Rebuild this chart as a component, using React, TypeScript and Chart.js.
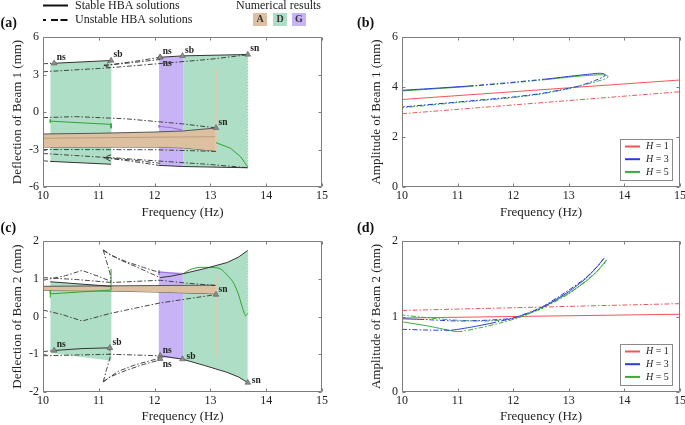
import React, { useEffect, useRef } from "react";
import { Chart, registerables } from "chart.js";
Chart.register(...registerables);

const FAM = "'Liberation Serif', 'Times New Roman', serif";
const INK = "#222";
const FRAME = "#7d7d7d";
const BLACK = "#333";
const DASH = [5, 2, 1.5, 2];
const COL_A = "#dcc0a0";
const COL_D = "#afdec6";
const COL_G = "#c8b3f6";
const GREEN = "#2fa52f";
const PURPLE = "#9b6fd6";
const TAN_LINE = "#e3c9ac";
const RED = "#ef5656";
const BLUE = "#2b3bdb";
const GRN = "#37aa37";

const FREQ_MIN = 10;
const FREQ_MAX = 15;

// ---------- Top legend ----------
const NUM_LABELS = ["A", "D", "G"];
const NUM_COLORS = [COL_A, COL_D, COL_G];
const H_VALUES = [1, 3, 5];
const H_COLORS = [RED, BLUE, GRN];

// ---------- Panel (a): Beam 1 deflection ----------
const aD1_top = [[10.13, 3.9], [11.23, 4.12]];
const aD1_bot = [[10.13, -3.95], [11.23, -4.18]];
const aG_top = [[12.08, 4.38], [12.51, 4.49]];
const aG_bot = [[12.08, -4.27], [12.51, -4.36]];
const aD2_top = [[12.51, 4.49], [13.67, 4.6]];
const aD2_bot = [[12.51, -4.36], [13.67, -4.46]];
const aA_top = [[10, -1.76], [11, -1.7], [12, -1.6], [12.5, -1.52], [13.1, -1.28]];
const aA_bot = [[10, -2.8], [11, -2.8], [12, -2.81], [12.5, -2.86], [13.1, -3.12]];
const aA_mid = [[10, -2.1], [13.1, -1.97]];

const aS1 = [[10.2, 3.9], [11.22, 4.12]];
const aS2 = [[12.1, 4.38], [12.5, 4.49], [13.67, 4.6]];
const aS3 = [[10.13, -3.95], [11.22, -4.18]];
const aS4 = [[12.08, -4.27], [12.5, -4.36], [13.67, -4.46]];

const aU1 = [[10, 3.86], [10.2, 3.9]];
const aU2 = [[10, 3.22], [11, 3.48], [11.22, 3.55], [12, 3.84], [13, 4.22], [13.67, 4.58]];
const aU3 = [[11.22, 4.12], [11.09, 3.72], [11.22, 3.5]];
const aU4 = [[11.09, 3.72], [11.6, 4.02], [12.1, 4.38]];
const aU5 = [[11.09, 3.72], [11.6, 3.95], [12.1, 4.2]];
const aU6 = [[10, -3.9], [10.13, -3.95]];
const aU7 = [[10, -3.32], [11, -3.6], [11.22, -3.65], [12, -3.9], [13, -4.2], [13.67, -4.46]];
const aU8 = [[11.22, -3.42], [11.09, -3.65], [11.22, -3.95]];
const aU9 = [[11.09, -3.65], [11.6, -3.95], [12.08, -4.27]];
const aU10 = [[11.09, -3.65], [11.6, -3.85], [12.1, -4.1]];
const aU11 = [[10, -0.45], [10.6, -0.37], [11.5, -0.55], [12.5, -0.95], [13.1, -1.27]];
const aU12 = [[10, -3.0], [12, -3.02], [13.1, -3.15]];

const aN1 = [[10.13, -0.6], [10.13, -0.86], [10.13, -0.73], [11.22, -0.99], [11.22, -0.9], [11.22, -1.3]];
const aN2 = [[12.08, -1.05], [12.08, -1.25], [12.08, -1.15], [12.3, -1.25], [12.5, -1.45]];
const aN3 = [[13.1, -2.45], [13.36, -2.9], [13.54, -3.57], [13.67, -4.4]];
const aN4 = [[13.67, 4.55], [13.67, -4.4]];
const aN5 = [[13.1, 3.45], [13.1, -3.2]];

const aMarks = [[10.2, 3.9], [11.22, 4.12], [12.1, 4.38], [12.1, 4.38], [12.5, 4.49], [13.67, 4.6], [13.1, -1.27]];
const aMarkText = ["ns", "sb", "ns", "ns", "sb", "sn", "sn"];
const aMarkPlace = ["ur", "ur", "ur", "dr", "ur", "ur", "ur"];

// ---------- Panel (b): Beam 1 amplitude ----------
const bH1_stable = [[10, 3.5], [15, 4.28]];
const bH1_unstable = [[10, 2.93], [15, 3.81]];
const bH3 = [[10, 3.87], [10.6, 3.95], [11.2, 4.04], [11.9, 4.17], [12.6, 4.32], [13.1, 4.45], [13.4, 4.52], [13.55, 4.55], [13.63, 4.53], [13.66, 4.47], [13.6, 4.38], [13.45, 4.24], [13.2, 4.05], [13.0, 3.95], [12.5, 3.74], [12.0, 3.6], [11.0, 3.4], [10.0, 3.2]];
const bH3_stable = [1, 1, 0, 0, 1, 1, 1, 1, 0, 0, 0, 0, 0, 0, 0, 0, 0];
const bH5 = [[10, 3.84], [10.6, 3.93], [11.2, 4.02], [11.9, 4.15], [12.6, 4.3], [13.1, 4.42], [13.4, 4.47], [13.58, 4.49], [13.67, 4.47], [13.71, 4.41], [13.66, 4.33], [13.5, 4.22], [13.2, 4.04], [13.0, 3.93], [12.5, 3.72], [12.0, 3.58], [11.0, 3.38], [10.0, 3.17]];
const bH5_stable = [1, 1, 0, 0, 1, 1, 1, 1, 0, 0, 0, 0, 0, 0, 0, 0, 0];

// ---------- Panel (c): Beam 2 deflection ----------
const cD1_top = [[10.13, 0.92], [11.23, 0.8]];
const cD1_bot = [[10.13, -0.97], [11.23, -1.17]];
const cG_top = [[12.07, 1.2], [12.51, 1.16]];
const cG_bot = [[12.07, -1.07], [12.51, -1.13]];
const cD2_top = [[12.51, 1.13], [12.9, 1.27], [13.3, 1.43], [13.5, 1.57], [13.67, 1.75]];
const cD2_bot = [[12.51, -1.13], [12.9, -1.3], [13.3, -1.48], [13.5, -1.6], [13.67, -1.75]];
const cA_top = [[10, 0.8], [11, 0.81], [12, 0.82], [13.1, 0.83]];
const cA_bot = [[10, 0.69], [11, 0.68], [12, 0.65], [13.1, 0.6]];

const cS1 = [[10.13, 0.92], [11.22, 0.8]];
const cS2 = [[10.2, -0.9], [10.7, -0.85], [11.2, -0.83]];
const cS3 = [[12.1, 1.03], [12.3, 1.07], [12.5, 1.13], [12.9, 1.27], [13.3, 1.43], [13.5, 1.57], [13.67, 1.75]];
const cS4 = [[12.1, -1.04], [12.5, -1.13], [12.9, -1.3], [13.3, -1.48], [13.5, -1.6], [13.67, -1.75]];

const cU1 = [[10, 0.96], [10.4, 1.08], [10.7, 1.22], [11.0, 1.06], [11.22, 0.93]];
const cU2 = [[10, 1.03], [10.6, 0.98], [11.22, 0.9], [12.1, 0.96], [12.6, 0.88], [13.1, 0.82]];
const cU3 = [[11.08, 1.76], [11.35, 1.52], [11.65, 1.33], [12.1, 1.03]];
const cU4 = [[11.08, 1.76], [11.2, 1.63], [11.5, 1.45], [11.8, 1.3], [12.1, 1.16]];
const cU5 = [[11.08, 1.76], [11.14, 1.45], [11.2, 1.15], [11.22, 0.93]];
const cU6 = [[11.08, -1.73], [11.35, -1.45], [11.65, -1.28], [12.1, -1.1]];
const cU7 = [[11.08, -1.73], [11.2, -1.6], [11.5, -1.42], [11.8, -1.27], [12.1, -1.15]];
const cU8 = [[11.08, -1.73], [11.14, -1.4], [11.2, -1.1], [11.2, -0.83]];
const cU9 = [[10, 0.17], [10.35, 0.05], [10.7, -0.12], [11.2, 0.08], [12.1, 0.36], [13.1, 0.58]];
const cU10 = [[10, -1.04], [11.2, -1.0], [12.1, -1.04]];
const cU11 = [[10, -0.93], [10.2, -0.9]];

const cN1 = [[10.13, 0.5], [10.13, 0.7], [10.13, 0.6], [11.22, 0.7], [11.22, 1.26]];
const cN2 = [[12.51, 1.13], [12.65, 1.25], [12.8, 1.3], [13.0, 1.3], [13.17, 1.27], [13.3, 1.1], [13.41, 0.9], [13.5, 0.6], [13.56, 0.3], [13.63, 0.02], [13.67, 0.08]];
const cN3 = [[13.67, 0.08], [13.67, 1.75]];
const cN4 = [[12.08, 1.22], [12.08, 1.1], [12.08, 1.18], [12.45, 1.13]];
const cN5 = [[13.1, 1.1], [13.1, -1.07]];

const cMarks = [[10.2, -0.9], [11.2, -0.83], [12.1, -1.04], [12.1, -1.12], [12.5, -1.13], [13.67, -1.75], [13.1, 0.58]];
const cMarkText = ["ns", "sb", "ns", "ns", "sb", "sn", "sn"];
const cMarkPlace = ["ur", "ur", "ur", "dr", "r", "r", "ur"];

// ---------- Panel (d): Beam 2 amplitude ----------
const dH1_stable = [[10, 0.98], [15, 1.03]];
const dH1_unstable = [[10, 1.08], [15, 1.17]];
const dH3 = [[10, 0.83], [10.5, 0.82], [10.9, 0.82], [11.25, 0.86], [11.6, 0.91], [12.0, 0.98], [12.5, 1.11], [13.0, 1.33], [13.3, 1.5], [13.5, 1.65], [13.63, 1.77], [13.56, 1.7], [13.3, 1.51], [13.0, 1.35], [12.5, 1.12], [12.0, 0.98], [11.5, 0.95], [11.0, 0.94], [10.4, 0.96], [10.0, 0.97]];
const dH3_stable = [0, 0, 1, 1, 0, 0, 1, 1, 1, 1, 0, 0, 0, 0, 0, 0, 0, 0, 1];
const dH5 = [[10, 0.93], [10.5, 0.87], [11.0, 0.8], [11.4, 0.85], [11.8, 0.92], [12.2, 1.01], [12.6, 1.15], [13.0, 1.31], [13.3, 1.46], [13.5, 1.59], [13.68, 1.75], [13.62, 1.68], [13.4, 1.53], [13.0, 1.3], [12.5, 1.1], [12.0, 0.97], [11.5, 0.94], [11.0, 0.95], [10.5, 0.98], [10.0, 1.02]];
const dH5_stable = [1, 1, 0, 0, 0, 0, 1, 1, 1, 1, 0, 0, 0, 0, 0, 0, 0, 0, 0];

// ---------- helpers ----------
type Curve = number[][];
const xy = (c: Curve) => c.map(([x, y]) => ({ x, y }));

function ln(c: Curve, color: string, o: any = {}) {
  const ds: any = {
    type: "line",
    data: xy(c),
    borderColor: color,
    backgroundColor: color,
    borderWidth: o.w ?? 1,
    borderDash: o.dash ?? [],
    pointRadius: 0,
    pointHoverRadius: 0,
    fill: false,
    tension: o.tension ?? 0,
    order: o.order ?? 2,
  };
  if (o.flags) {
    const f: number[] = o.flags;
    ds.segment = { borderDash: (ctx: any) => (f[ctx.p0DataIndex] ? [] : DASH) };
  }
  return ds;
}
const solid = (c: Curve) => ln(c, BLACK, { w: 1 });
const dashed = (c: Curve) => ln(c, BLACK, { w: 0.9, dash: DASH });

function region(top: Curve, bot: Curve, color: string, order: number, edge?: string) {
  const e = edge ?? "rgba(0,0,0,0)";
  return [
    { ...ln(top, e, { w: 1, order }), fill: "+1", backgroundColor: color },
    ln(bot, e, { w: 1, order }),
  ];
}

function marks(c: Curve) {
  return {
    type: "line",
    data: xy(c),
    showLine: false,
    pointStyle: "triangle",
    pointRadius: 3.3,
    pointBackgroundColor: "#8c8c8c",
    pointBorderColor: "#5a5a5a",
    pointBorderWidth: 0.6,
    order: 0,
  };
}

function scales(ymin: number, ymax: number, ystep: number, ytitle: string, ytPad: number, yW: number, xH: number, xtPad: number) {
  const tickFont = { family: FAM, size: 12 };
  const titleFont = { family: FAM, size: 13 };
  return {
    x: {
      type: "linear",
      min: FREQ_MIN,
      max: FREQ_MAX,
      ticks: { stepSize: 1, font: tickFont, color: INK, padding: 1.5, maxRotation: 0, autoSkip: false },
      grid: { display: false, drawTicks: false },
      border: { display: false },
      title: { display: true, text: "Frequency (Hz)", font: titleFont, color: INK, padding: { top: 0, bottom: xtPad } },
      afterFit: (s: any) => {
        s.height = xH;
        s.paddingLeft = 0;
        s.paddingRight = 0;
      },
    },
    y: {
      type: "linear",
      min: ymin,
      max: ymax,
      ticks: { stepSize: ystep, font: tickFont, color: INK, padding: 4 },
      grid: { display: false, drawTicks: false },
      border: { display: false },
      title: { display: true, text: ytitle, font: titleFont, color: INK, padding: { top: ytPad, bottom: 0 } },
      afterFit: (s: any) => {
        s.width = yW;
        s.paddingTop = 0;
        s.paddingBottom = 0;
      },
    },
  };
}

function extras(cfg: any) {
  return {
    id: "extras",
    afterDatasetsDraw(chart: any) {
      const { ctx, chartArea: a } = chart;
      const xs = chart.scales.x;
      const ys = chart.scales.y;
      ctx.save();
      ctx.setLineDash([]);
      ctx.strokeStyle = FRAME;
      ctx.lineWidth = 1;
      const L = Math.round(a.left) + 0.5;
      const R = Math.round(a.right) - 0.5;
      const T = Math.round(a.top) + 0.5;
      const B = Math.round(a.bottom) - 0.5;
      ctx.beginPath();
      xs.ticks.forEach((t: any) => {
        const p = Math.round(xs.getPixelForValue(t.value)) + 0.5;
        ctx.moveTo(p, B);
        ctx.lineTo(p, B - 3);
        ctx.moveTo(p, T);
        ctx.lineTo(p, T + 3);
      });
      ys.ticks.forEach((t: any) => {
        const p = Math.round(ys.getPixelForValue(t.value)) + 0.5;
        ctx.moveTo(L, p);
        ctx.lineTo(L + 3, p);
        ctx.moveTo(R, p);
        ctx.lineTo(R - 3, p);
      });
      ctx.rect(L, T, R - L, B - T);
      ctx.stroke();

      if (cfg.marks) {
        const meta = chart.getDatasetMeta(0);
        ctx.font = `bold 9.5px ${FAM}`;
        ctx.fillStyle = INK;
        ctx.textAlign = "left";
        ctx.textBaseline = "middle";
        meta.data.forEach((el: any, i: number) => {
          const pl = cfg.places[i];
          const dx = pl === "r" ? 4 : 2.5;
          const dy = pl === "ur" ? -5.5 : pl === "dr" ? 6 : -2.5;
          ctx.fillText(cfg.marks[i], el.x + dx, el.y + dy);
        });
      }

      if (cfg.hLegend) {
        const w = 52;
        const h = 41;
        const x0 = Math.round(a.right - 8 - w);
        const y0 = Math.round(a.bottom - 7 - h);
        ctx.fillStyle = "#fff";
        ctx.fillRect(x0, y0, w, h);
        ctx.strokeStyle = "#8a8a8a";
        ctx.lineWidth = 1;
        ctx.strokeRect(x0 + 0.5, y0 + 0.5, w, h);
        ctx.textAlign = "left";
        ctx.textBaseline = "middle";
        H_VALUES.forEach((hv, i) => {
          const yy = y0 + 7.5 + i * 12.7;
          ctx.strokeStyle = H_COLORS[i];
          ctx.lineWidth = 2;
          ctx.beginPath();
          ctx.moveTo(x0 + 5, yy);
          ctx.lineTo(x0 + 20, yy);
          ctx.stroke();
          ctx.fillStyle = INK;
          ctx.font = `italic 10px ${FAM}`;
          ctx.fillText("H", x0 + 26, yy);
          const wH = ctx.measureText("H").width;
          ctx.font = `10px ${FAM}`;
          ctx.fillText(` = ${hv}`, x0 + 26 + wH, yy);
        });
      }
      ctx.restore();
    },
    afterDraw(chart: any) {
      const { ctx } = chart;
      ctx.save();
      ctx.fillStyle = "#111";
      ctx.textAlign = "left";
      ctx.textBaseline = "middle";
      ctx.font = `bold 14px ${FAM}`;
      ctx.fillText(cfg.label, cfg.lx, cfg.ly);

      if (cfg.topLegend) {
        ctx.strokeStyle = "#111";
        ctx.lineWidth = 2;
        ctx.beginPath();
        ctx.moveTo(43, 5.5);
        ctx.lineTo(68, 5.5);
        ctx.stroke();
        ctx.setLineDash([3, 5, 7, 2.5, 7, 10]);
        ctx.beginPath();
        ctx.moveTo(43, 20);
        ctx.lineTo(68, 20);
        ctx.stroke();
        ctx.setLineDash([]);
        ctx.fillStyle = INK;
        ctx.font = `12px ${FAM}`;
        ctx.fillText("Stable HBA solutions", 75, 5.5);
        ctx.fillText("Unstable HBA solutions", 75, 20);
        ctx.fillText("Numerical results", 236, 5.5);
        const bx = [253, 273, 292];
        NUM_LABELS.forEach((t, i) => {
          ctx.fillStyle = NUM_COLORS[i];
          ctx.fillRect(bx[i], 13, 14, 13);
          ctx.fillStyle = "#333";
          ctx.font = `bold 10px ${FAM}`;
          ctx.textAlign = "center";
          ctx.fillText(t, bx[i] + 7, 19.7);
          ctx.textAlign = "left";
        });
      }
      ctx.restore();
    },
  };
}

function baseOptions(sc: any, padTop: number, padRight: number) {
  return {
    responsive: false,
    maintainAspectRatio: false,
    animation: false,
    devicePixelRatio: 1,
    events: [],
    layout: { padding: { top: padTop, right: padRight, left: 0, bottom: 0 } },
    plugins: { legend: { display: false }, tooltip: { enabled: false } },
    scales: sc,
  };
}

function buildA() {
  const datasets: any[] = [
    marks(aMarks),
    solid(aS1), solid(aS2), solid(aS3), solid(aS4),
    dashed(aU1), dashed(aU2), dashed(aU3), dashed(aU4), dashed(aU5), dashed(aU6),
    dashed(aU7), dashed(aU8), dashed(aU9), dashed(aU10), dashed(aU11), dashed(aU12),
    ln(aN1, GREEN, { w: 1 }),
    ln(aN2, PURPLE, { w: 1 }),
    ln(aN3, GREEN, { w: 1 }),
    ln(aN4, "#6cc86c", { w: 1, dash: [1, 2] }),
    ln(aN5, TAN_LINE, { w: 0.8 }),
    ln(aA_mid, "#b39676", { w: 0.8, order: 4 }),
    ...region(aA_top, aA_bot, COL_A, 5, "#555"),
    ...region(aD1_top, aD1_bot, COL_D, 6),
    ...region(aG_top, aG_bot, COL_G, 6),
    ...region(aD2_top, aD2_bot, COL_D, 6),
  ];
  return {
    type: "line",
    data: { datasets },
    options: baseOptions(scales(-6, 6, 3, "Deflection of Beam 1 (mm)", 10, 43, 35, 2), 37, 18),
    plugins: [extras({ label: "(a)", lx: 0.5, ly: 23, marks: aMarkText, places: aMarkPlace, topLegend: true })],
  };
}

function buildB() {
  const datasets: any[] = [
    ln(bH3, BLUE, { w: 1, flags: bH3_stable, tension: 0.2 }),
    ln(bH5, GRN, { w: 1, flags: bH5_stable, tension: 0.2 }),
    ln(bH1_stable, RED, { w: 1 }),
    ln(bH1_unstable, RED, { w: 1, dash: DASH }),
  ];
  return {
    type: "line",
    data: { datasets },
    options: baseOptions(scales(0, 6, 2, "Amplitude of Beam 1 (mm)", 29, 62, 35, 2), 37, 5),
    plugins: [extras({ label: "(b)", lx: 17, ly: 23, hLegend: true })],
  };
}

function buildC() {
  const datasets: any[] = [
    marks(cMarks),
    solid(cS1), solid(cS2), solid(cS3), solid(cS4),
    dashed(cU1), dashed(cU2), dashed(cU3), dashed(cU4), dashed(cU5), dashed(cU6),
    dashed(cU7), dashed(cU8), dashed(cU9), dashed(cU10), dashed(cU11),
    ln(cN1, GREEN, { w: 1 }),
    ln(cN2, GREEN, { w: 1, tension: 0.3 }),
    ln(cN3, "#6cc86c", { w: 1, dash: [1, 2] }),
    ln(cN4, PURPLE, { w: 1 }),
    ln(cN5, TAN_LINE, { w: 0.8 }),
    ...region(cA_top, cA_bot, COL_A, 5, "#555"),
    ...region(cD1_top, cD1_bot, COL_D, 6),
    ...region(cG_top, cG_bot, COL_G, 6),
    ...region(cD2_top, cD2_bot, COL_D, 6),
  ];
  return {
    type: "line",
    data: { datasets },
    options: baseOptions(scales(-2, 2, 1, "Deflection of Beam 2 (mm)", 10, 43, 33, 0.5), 26, 18),
    plugins: [extras({ label: "(c)", lx: 0.5, ly: 13, marks: cMarkText, places: cMarkPlace })],
  };
}

function buildD() {
  const datasets: any[] = [
    ln(dH3, BLUE, { w: 1, flags: dH3_stable, tension: 0.2 }),
    ln(dH5, GRN, { w: 1, flags: dH5_stable, tension: 0.2 }),
    ln(dH1_stable, RED, { w: 1 }),
    ln(dH1_unstable, RED, { w: 1, dash: DASH }),
  ];
  return {
    type: "line",
    data: { datasets },
    options: baseOptions(scales(0, 2, 1, "Amplitude of Beam 2 (mm)", 29, 62, 33, 0.5), 26, 5),
    plugins: [extras({ label: "(d)", lx: 17, ly: 13, hLegend: true })],
  };
}

function Panel({ left, top, width, height, build }: { left: number; top: number; width: number; height: number; build: () => any }) {
  const ref = useRef<HTMLCanvasElement>(null);
  useEffect(() => {
    const chart = new Chart(ref.current as HTMLCanvasElement, build());
    return () => chart.destroy();
  }, []);
  return (
    <canvas
      ref={ref}
      width={width}
      height={height}
      style={{ position: "absolute", left, top, width, height }}
    />
  );
}

export default function App() {
  return (
    <div style={{ position: "fixed", left: 0, top: 0, width: 685, height: 425, background: "#fff", overflow: "hidden" }}>
      <Panel left={0} top={0} width={340} height={222} build={buildA} />
      <Panel left={340} top={0} width={345} height={222} build={buildB} />
      <Panel left={0} top={215} width={340} height={210} build={buildC} />
      <Panel left={340} top={215} width={345} height={210} build={buildD} />
    </div>
  );
}
